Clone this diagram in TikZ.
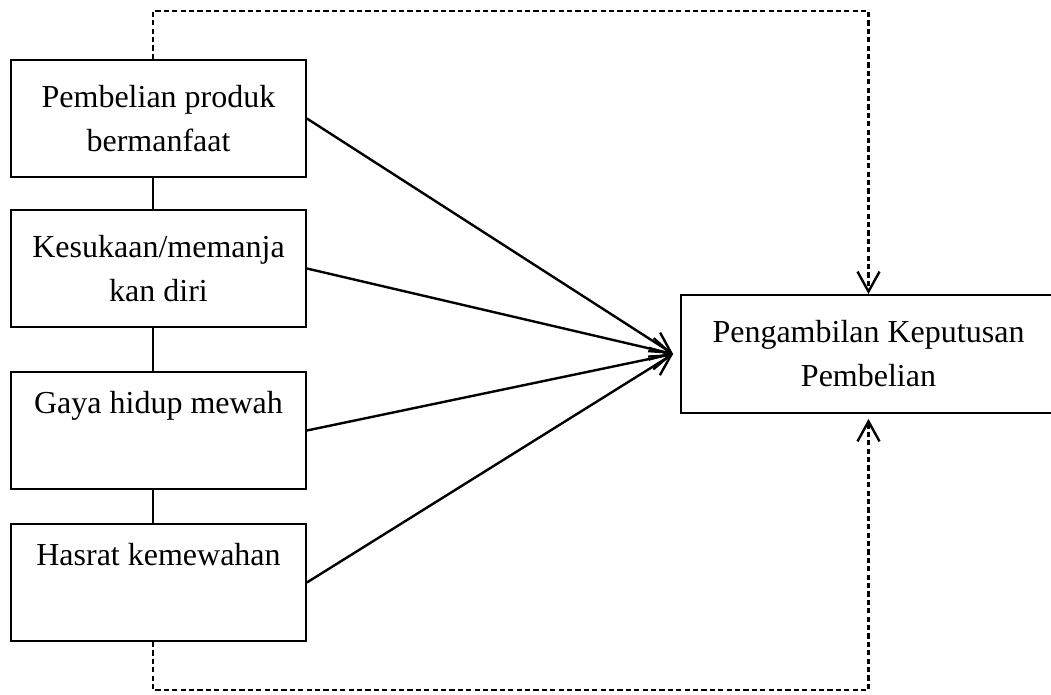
\documentclass[tikz,border=0pt]{standalone}
\usepackage{fontspec}
\setmainfont{Liberation Serif}
\usetikzlibrary{arrows.meta}
\tikzset{
	factor box/.style={
		rectangle,
		draw,
		line width=0.9pt,
		minimum width=147.5pt,
		minimum height=58.5pt,
		align=center,
		font=\fontsize{16}{22}\selectfont
	},
	decision box/.style={
		factor box,
		minimum width=187.5pt,
		minimum height=59pt
	},
	feedback/.style={
		dashed,
		dash pattern=on 2.6pt off 1.6pt,
		line width=1.2pt
	},
}

\begin{document}
\begin{tikzpicture}[x=0.5pt, y=-0.5pt, >={Straight Barb[length=10pt,width=11pt]}]

\useasboundingbox (0,0) rectangle (1051,695);

\coordinate (spine) at (153,0);

\foreach \t/\y [count=\i] in {{Pembelian produk\\bermanfaat}/118.5,
		{Kesukaan/memanja\\kan diri}/268.5,
		{Gaya hidup mewah\\\strut}/430.5,
		{Hasrat kemewahan\\\strut}/582.5}
	\node [factor box] (factor-\i) at (158.5,\y) {\t};

\node [decision box] (decision) at (868.5,354) {Pengambilan Keputusan\\Pembelian};

\coordinate (hub) at ([xshift=-3.5pt]decision.west);

\foreach \i/\j in {1/2,2/3,3/4}
	\draw [line width=0.9pt] (factor-\i.south -| spine) -- (factor-\j.north -| spine);

\foreach \i in {1,...,4}
	\draw [->, line width=1.2pt] (factor-\i.east) -- (hub);

% dashed loops into the decision box
\draw [feedback, ->] (factor-1.north -| spine) -- ++(0,-48) -| (decision.north);
\draw [feedback, ->, shorten >=2.5pt] (factor-4.south -| spine) -- ++(0,48) -| (decision.south);

\end{tikzpicture}
\end{document}
